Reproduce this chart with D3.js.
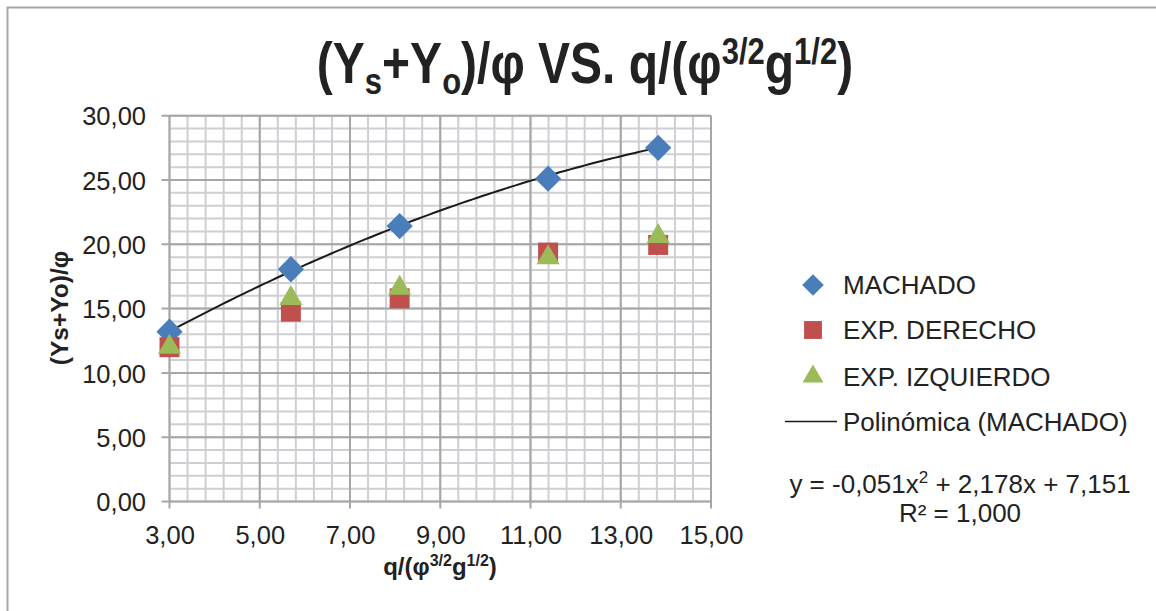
<!DOCTYPE html>
<html>
<head>
<meta charset="utf-8">
<script src="https://cdn.jsdelivr.net/npm/d3@7"></script>
<style>
  body { margin: 0; background: #fff; }
  svg { display: block; font-family: "Liberation Sans", Arial, sans-serif; }
</style>
</head>
<body>
<div id="chart"></div>
<script>
// data
var seriesNames = ["MACHADO", "EXP. DERECHO", "EXP. IZQUIERDO"];
var xValues = [3.00, 5.69, 8.10, 11.39, 13.83];
var machado = [13.2, 18.06, 21.42, 25.1, 27.5];
var derecho = [12.0, 14.76, 15.8, 19.36, 19.95];
var izquierdo = [12.0, 15.8, 16.6, 18.97, 20.62];
var trendCoef = [-0.051, 2.178, 7.151]; // y = a x^2 + b x + c, from the chart label
var xTicks = [3, 5, 7, 9, 11, 13, 15];
var yTicks = [0, 5, 10, 15, 20, 25, 30];

var width = 1156, height = 611;
var plot = {left: 169.5, right: 711, top: 115.7, bottom: 501.5};

var svg = d3.select("#chart").append("svg")
    .attr("width", width)
    .attr("height", height);

// outer frame (only top / left visible)
svg.append("path")
    .attr("d", "M7.5,611V7.5H1156")
    .attr("fill", "none")
    .attr("stroke", "#a6a6a6")
    .attr("stroke-width", 2);

var x = d3.scaleLinear().domain([3, 15]).range([plot.left, plot.right]);
var y = d3.scaleLinear().domain([0, 30]).range([plot.bottom, plot.top]);
var fmt = function (d) { return d3.format(".2f")(d).replace(".", ","); };

// minor grid
var g = svg.append("g");
g.selectAll(".vminor")
    .data(d3.range(0, 31).map(function (i) { return 3 + i * 0.4; }))
    .enter().append("line")
    .attr("x1", function (d) { return x(d); }).attr("x2", function (d) { return x(d); })
    .attr("y1", plot.top).attr("y2", plot.bottom)
    .attr("stroke", "#cfcfd3").attr("stroke-width", 2);
g.selectAll(".hminor")
    .data(d3.range(0, 31))
    .enter().append("line")
    .attr("y1", function (d) { return y(d); }).attr("y2", function (d) { return y(d); })
    .attr("x1", plot.left).attr("x2", plot.right)
    .attr("stroke", "#cfcfd3").attr("stroke-width", 2);

// major grid
g.selectAll(".vmajor")
    .data(xTicks)
    .enter().append("line")
    .attr("x1", function (d) { return x(d); }).attr("x2", function (d) { return x(d); })
    .attr("y1", plot.top).attr("y2", plot.bottom + 7)
    .attr("stroke", "#a6a6a6").attr("stroke-width", 2);
g.selectAll(".hmajor")
    .data(yTicks)
    .enter().append("line")
    .attr("y1", function (d) { return y(d); }).attr("y2", function (d) { return y(d); })
    .attr("x1", plot.left - 8).attr("x2", plot.right)
    .attr("stroke", "#a6a6a6").attr("stroke-width", 2);

// axes labels
var xAxis = d3.axisBottom(x).tickValues(xTicks).tickFormat(fmt).tickSize(0).tickPadding(0);
svg.append("g")
    .attr("transform", "translate(0," + (plot.bottom + 24) + ")")
    .call(xAxis)
    .call(function (s) { s.select(".domain").remove(); })
    .selectAll("text")
    .attr("font-size", 25.5).attr("fill", "#222").attr("font-family", null).attr("dy", "0.71em");

var yAxis = d3.axisLeft(y).tickValues(yTicks).tickFormat(fmt).tickSize(0).tickPadding(0);
svg.append("g")
    .attr("transform", "translate(" + 146 + ",0)")
    .call(yAxis)
    .call(function (s) { s.select(".domain").remove(); })
    .selectAll("text")
    .attr("font-size", 25.5).attr("fill", "#222").attr("font-family", null).attr("dy", "0.36em");

// trendline
var trend = function (v) { return trendCoef[0] * v * v + trendCoef[1] * v + trendCoef[2]; };
var tx = d3.range(0, 101).map(function (i) {
    return xValues[0] + (xValues[xValues.length - 1] - xValues[0]) * i / 100;
});
svg.append("path")
    .datum(tx)
    .attr("fill", "none")
    .attr("stroke", "#1a1a1a")
    .attr("stroke-width", 2)
    .attr("d", d3.line().x(function (d) { return x(d); }).y(function (d) { return y(trend(d)); }));

// markers
var colors = ["#4a7ebb", "#c0504d", "#9bbb59"];
var symbols = [
    d3.symbol().type(d3.symbolDiamond2).size(440),
    d3.symbol().type(d3.symbolSquare).size(400),
    d3.symbol().type(d3.symbolTriangle).size(230)
];
var seriesData = [machado, derecho, izquierdo];

[0, 1, 2].forEach(function (k) {
    svg.append("g").selectAll("path")
        .data(seriesData[k])
        .enter().append("path")
        .attr("transform", function (d, i) {
            return "translate(" + x(xValues[i]) + "," + y(d) + ")";
        })
        .attr("d", symbols[k])
        .attr("fill", colors[k]);
});

// title
var title = svg.append("text")
    .attr("transform", "translate(585,83) scale(1,1.18)")
    .attr("text-anchor", "middle")
    .attr("font-size", 48).attr("font-weight", "bold").attr("fill", "#222");
title.append("tspan").text("(Y");
title.append("tspan").attr("font-size", 31).attr("dy", 9).text("s");
title.append("tspan").attr("dy", -9).text("+Y");
title.append("tspan").attr("font-size", 31).attr("dy", 9).text("o");
title.append("tspan").attr("dy", -9).text(")/φ VS. q/(φ");
title.append("tspan").attr("font-size", 31).attr("dy", -16).text("3/2");
title.append("tspan").attr("dy", 16).text("g");
title.append("tspan").attr("font-size", 31).attr("dy", -16).text("1/2");
title.append("tspan").attr("dy", 16).text(")");

// axis titles
var xt = svg.append("text")
    .attr("x", 440).attr("y", 575)
    .attr("text-anchor", "middle")
    .attr("font-size", 24).attr("font-weight", "bold").attr("fill", "#222");
xt.append("tspan").text("q/(φ");
xt.append("tspan").attr("font-size", 16).attr("dy", -9).text("3/2");
xt.append("tspan").attr("dy", 9).text("g");
xt.append("tspan").attr("font-size", 16).attr("dy", -9).text("1/2");
xt.append("tspan").attr("dy", 9).text(")");

svg.append("text")
    .attr("transform", "translate(68,308) rotate(-90)")
    .attr("text-anchor", "middle")
    .attr("font-size", 24.5).attr("font-weight", "bold").attr("fill", "#222")
    .text("(Ys+Yo)/φ");

// legend
var legendY = [285, 330, 376.5];
var legendSymbols = [
    d3.symbol().type(d3.symbolDiamond2).size(300),
    d3.symbol().type(d3.symbolSquare).size(320),
    d3.symbol().type(d3.symbolTriangle).size(190)
];
seriesNames.forEach(function (name, k) {
    svg.append("path")
        .attr("transform", "translate(813," + legendY[k] + ")")
        .attr("d", legendSymbols[k])
        .attr("fill", colors[k]);
    svg.append("text")
        .attr("x", 843).attr("y", legendY[k])
        .attr("dy", "0.36em")
        .attr("font-size", 26).attr("fill", "#222")
        .text(name);
});
svg.append("line")
    .attr("x1", 785).attr("x2", 837)
    .attr("y1", 421.5).attr("y2", 421.5)
    .attr("stroke", "#1a1a1a").attr("stroke-width", 1.5);
svg.append("text")
    .attr("x", 843).attr("y", 421.5).attr("dy", "0.36em")
    .attr("font-size", 26).attr("fill", "#222")
    .text("Polinómica (MACHADO)");

var eq = svg.append("text")
    .attr("x", 960).attr("y", 493)
    .attr("text-anchor", "middle")
    .attr("font-size", 26).attr("fill", "#222");
eq.append("tspan").text("y = -0,051x");
eq.append("tspan").attr("font-size", 17).attr("dy", -10).text("2");
eq.append("tspan").attr("dy", 10).text(" + 2,178x + 7,151");
svg.append("text")
    .attr("x", 960).attr("y", 522)
    .attr("text-anchor", "middle")
    .attr("font-size", 26).attr("fill", "#222")
    .text("R² = 1,000");
</script>
</body>
</html>
